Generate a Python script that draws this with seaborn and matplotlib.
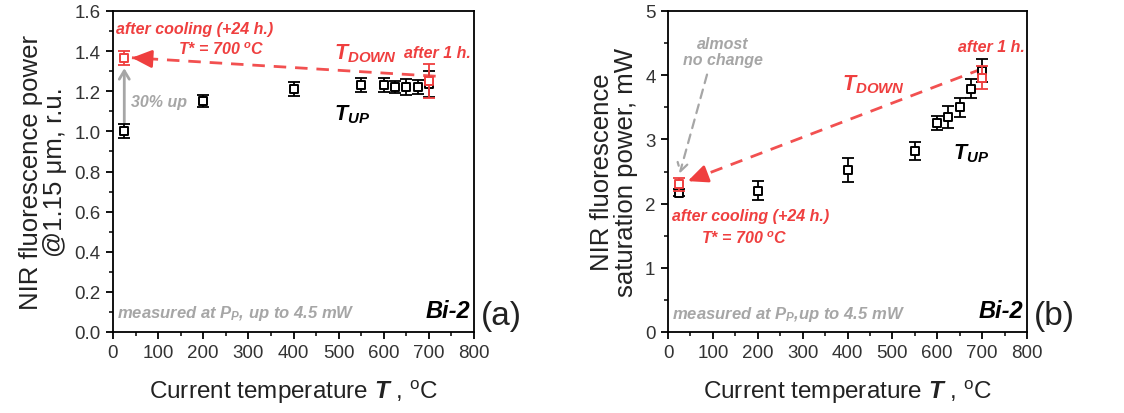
import matplotlib
matplotlib.use("Agg")
import matplotlib.pyplot as plt
import seaborn as sns
import pandas as pd
from matplotlib.ticker import MultipleLocator

# ---- data -------------------------------------------------------------
# heating run (T_UP): annealing temperature, deg C
temp_up = [25, 200, 400, 550, 600, 625, 650, 675, 700]
# (a) NIR fluorescence power at 1.15 um, relative units
power_up = [1.00, 1.15, 1.21, 1.23, 1.23, 1.22, 1.22, 1.22, 1.235]
power_up_err = [0.035, 0.03, 0.035, 0.035, 0.035, 0.03, 0.04, 0.035, 0.065]
# (b) NIR fluorescence saturation power, mW
sat_up = [2.17, 2.20, 2.52, 2.82, 3.25, 3.35, 3.50, 3.79, 4.07]
sat_up_err = [0.05, 0.15, 0.19, 0.14, 0.11, 0.17, 0.15, 0.15, 0.18]

# cooling run (T_DOWN): after 1 h at 700 C, then after cooling (+24 h)
temp_down = [700, 25]
power_down = [1.25, 1.365]
power_down_err = [0.085, 0.035]
sat_down = [3.96, 2.30]
sat_down_err = [0.18, 0.10]

# guide arrows (data coordinates: start -> tip)
down_arrow_a = {"x": [715, 42], "y": [1.275, 1.367]}
up_arrow_a = {"x": [25, 25], "y": [1.045, 1.315]}
down_arrow_b = {"x": [700, 44], "y": [4.10, 2.35]}
nochange_arrow_b = {"x": [87, 26], "y": [4.01, 2.47]}

RED = "#ef3f3f"
RED_LINE = "#f25050"
GRAY = "#a6a6a6"
TICK_COLOR = "#333333"

# ---- style ------------------------------------------------------------
sns.set_theme(style="ticks")
plt.rcParams["font.family"] = ["Liberation Sans", "DejaVu Sans"]
plt.rcParams["mathtext.fontset"] = "custom"
plt.rcParams["mathtext.rm"] = "Liberation Sans"
plt.rcParams["mathtext.it"] = "Liberation Sans:italic:bold"
plt.rcParams["mathtext.bf"] = "Liberation Sans:bold"

fig = plt.figure(figsize=(11.24, 4.14), dpi=100)
ax_a = fig.add_axes([113 / 1124, 1 - 333 / 414, 361 / 1124, 321 / 414])
ax_b = fig.add_axes([668 / 1124, 1 - 333 / 414, 359 / 1124, 321 / 414])

ANN = dict(fontweight="bold", fontstyle="italic")


def draw_series(ax, x, y, err, color, z):
    ax.errorbar(x, y, yerr=err, fmt="none", ecolor=color, elinewidth=1.3,
                capsize=4.5, capthick=1.3, zorder=z)
    df = pd.DataFrame({"T": x, "v": y})
    sns.scatterplot(data=df, x="T", y="v", ax=ax, marker="s", s=40,
                    color="white", edgecolor=color, linewidth=1.4,
                    zorder=z + 0.5, legend=False)


def red_arrow(ax, arrow, head_len):
    xs, ys = arrow["x"], arrow["y"]
    ax.plot(xs, ys, ls=(0, (4.5, 3.2)), color=RED_LINE, lw=2.0, zorder=2)
    # solid head at the tip
    dx = xs[1] - xs[0]
    dy = ys[1] - ys[0]
    ax.annotate("", xy=(xs[1], ys[1]),
                xytext=(xs[1] - dx * head_len, ys[1] - dy * head_len),
                arrowprops=dict(arrowstyle="-|>,head_length=1.0,head_width=0.45",
                                color=RED, lw=2.0, shrinkA=0, shrinkB=0),
                zorder=6)


def style_axes(ax, ymax, ymajor, yminor, ylabel, fmt):
    ax.set_xlim(0, 800)
    ax.set_ylim(0, ymax)
    ax.xaxis.set_major_locator(MultipleLocator(100))
    ax.xaxis.set_minor_locator(MultipleLocator(50))
    ax.yaxis.set_major_locator(MultipleLocator(ymajor))
    ax.yaxis.set_minor_locator(MultipleLocator(yminor))
    ax.yaxis.set_major_formatter(fmt)
    ax.tick_params(which="major", direction="out", length=5, width=1.3,
                   labelsize=13.5, labelcolor=TICK_COLOR, color="black",
                   top=False, right=False, pad=4)
    ax.tick_params(which="minor", direction="out", length=3, width=1.1,
                   color="black", top=False, right=False)
    for sp in ax.spines.values():
        sp.set_visible(True)
        sp.set_linewidth(1.3)
        sp.set_color("black")
    ax.set_xlabel(r"Current temperature $T$ , $^{\rm o}$C", fontsize=17.5,
                  color="#222222", labelpad=12)
    ax.set_ylabel(ylabel, fontsize=18.5, color="#222222", labelpad=5,
                  linespacing=1.0)


# ---- panel (a) --------------------------------------------------------
red_arrow(ax_a, down_arrow_a, 0.035)
ax_a.annotate("", xy=(up_arrow_a["x"][1], up_arrow_a["y"][1]),
              xytext=(up_arrow_a["x"][0], up_arrow_a["y"][0]),
              arrowprops=dict(arrowstyle="->,head_length=0.5,head_width=0.3",
                              color=GRAY, lw=2.0, shrinkA=0, shrinkB=0),
              zorder=2)
draw_series(ax_a, temp_up, power_up, power_up_err, "black", 3)
draw_series(ax_a, temp_down, power_down, power_down_err, RED, 4)

style_axes(ax_a, 1.6, 0.2, 0.1,
           "NIR fluorescence power\n@1.15 μm, r.u.",
           plt.FormatStrFormatter("%.1f"))

ax_a.text(7, 1.515, "after cooling (+24 h.)", color=RED, fontsize=11.5,
          ha="left", va="center", **ANN)
ax_a.text(241, 1.41, r"T* = 700 $^{o}$C", color=RED, fontsize=11.5,
          ha="center", va="center", **ANN)
ax_a.text(490, 1.39, r"$T_{DOWN}$", color=RED, fontsize=15.5,
          ha="left", va="center")
ax_a.text(793, 1.395, "after 1 h.", color=RED, fontsize=11.5,
          ha="right", va="center", **ANN)
ax_a.text(39, 1.15, "30% up", color=GRAY, fontsize=11.5,
          ha="left", va="center", **ANN)
ax_a.text(490, 1.09, r"$T_{UP}$", color="black", fontsize=15.5,
          ha="left", va="center")
ax_a.text(0.01, 0.062, r"measured at $P_P$, up to 4.5 mW", color=GRAY,
          fontsize=12, ha="left", va="center", transform=ax_a.transAxes, **ANN)
ax_a.text(0.99, 0.066, "Bi-2", color="black", fontsize=17, ha="right",
          va="center", transform=ax_a.transAxes, **ANN)
ax_a.text(1.018, 0.05, "(a)", color="#222222", fontsize=24, ha="left",
          va="center", transform=ax_a.transAxes)

# ---- panel (b) --------------------------------------------------------
red_arrow(ax_b, down_arrow_b, 0.05)
ax_b.annotate("", xy=(nochange_arrow_b["x"][1], nochange_arrow_b["y"][1]),
              xytext=(nochange_arrow_b["x"][0], nochange_arrow_b["y"][0]),
              arrowprops=dict(arrowstyle="->,head_length=0.5,head_width=0.3",
                              color=GRAY, lw=1.6, ls=(0, (4, 3)),
                              shrinkA=0, shrinkB=0),
              zorder=2)
draw_series(ax_b, temp_up, sat_up, sat_up_err, "black", 3)
draw_series(ax_b, temp_down, sat_down, sat_down_err, RED, 4)

style_axes(ax_b, 5, 1, 0.5,
           "NIR fluorescence\nsaturation power, mW",
           plt.FormatStrFormatter("%d"))

ax_b.text(122, 4.37, "almost\nno change", color=GRAY, fontsize=11.5,
          ha="center", va="center", linespacing=1.15, **ANN)
ax_b.text(387, 3.87, r"$T_{DOWN}$", color=RED, fontsize=15.5,
          ha="left", va="center")
ax_b.text(795, 4.45, "after 1 h.", color=RED, fontsize=11.5,
          ha="right", va="center", **ANN)
ax_b.text(636, 2.79, r"$T_{UP}$", color="black", fontsize=15.5,
          ha="left", va="center")
ax_b.text(8, 1.81, "after cooling (+24 h.)", color=RED, fontsize=11.5,
          ha="left", va="center", **ANN)
ax_b.text(171, 1.47, r"T* = 700 $^{o}$C", color=RED, fontsize=11.5,
          ha="center", va="center", **ANN)
ax_b.text(0.01, 0.058, r"measured at $P_P$,up to 4.5 mW", color=GRAY,
          fontsize=12, ha="left", va="center", transform=ax_b.transAxes, **ANN)
ax_b.text(0.99, 0.066, "Bi-2", color="black", fontsize=17, ha="right",
          va="center", transform=ax_b.transAxes, **ANN)
ax_b.text(1.018, 0.05, "(b)", color="#222222", fontsize=24, ha="left",
          va="center", transform=ax_b.transAxes)

fig.savefig("out.png", dpi=100, facecolor="white")
